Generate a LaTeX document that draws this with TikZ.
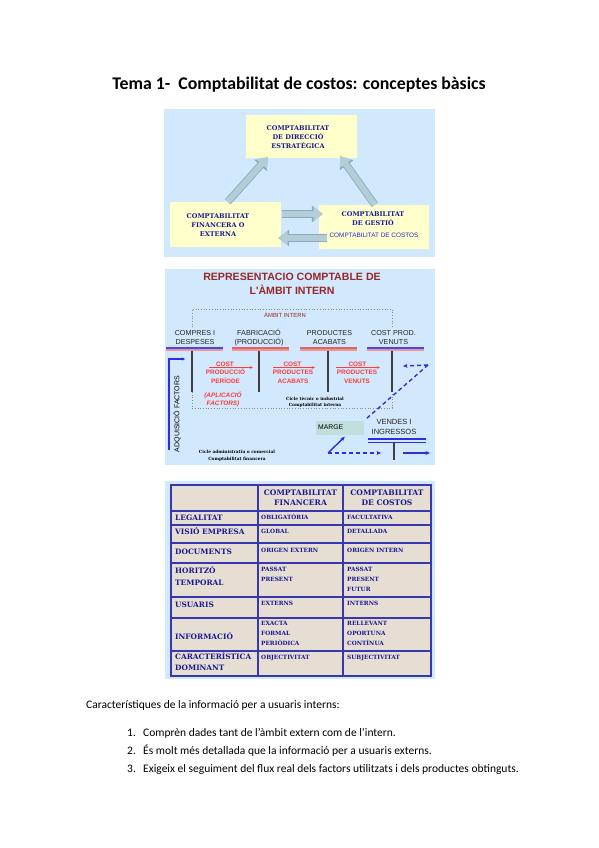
\documentclass[tikz,border=0pt]{standalone}
\usepackage{fontspec}
\setmainfont{DejaVu Serif}
\newfontfamily\carl{Carlito}
\newfontfamily\lsans{Liberation Sans}
\usetikzlibrary{arrows.meta,calc}
\definecolor{panelbg}{RGB}{210,232,252}
\definecolor{pyellow}{RGB}{255,255,204}
\definecolor{navy}{RGB}{25,25,150}
\definecolor{costblue}{RGB}{40,40,200}
\definecolor{arrowfill}{RGB}{180,206,216}
\definecolor{arrowedge}{RGB}{140,170,190}
\definecolor{darkred}{RGB}{150,40,40}
\definecolor{bred}{RGB}{255,60,60}
\definecolor{pinkbar}{RGB}{238,150,150}
\definecolor{redbar}{RGB}{225,100,100}
\definecolor{bluebar}{RGB}{70,70,235}
\definecolor{lblue}{RGB}{45,45,225}
\definecolor{tablefill}{RGB}{230,222,210}
\definecolor{tableedge}{RGB}{55,55,175}
\definecolor{margefill}{RGB}{192,222,220}
\definecolor{dotgray}{RGB}{140,140,140}
\newcommand{\bigarr}[2]{%
 \draw[arrowedge,line width=7.6pt,-{Triangle[width=16pt,length=11pt]}] #1 -- #2;
 \draw[arrowfill,line width=5.8pt,-{Triangle[width=13.5pt,length=9.3pt]}] #1 -- #2;}
\tikzset{
  ybox/.style={fill=pyellow, draw=none, inner sep=0pt},
  navytxt/.style={font=\bfseries\fontsize{6.5}{9}\selectfont, text=navy, align=center, inner sep=0pt},
  hdr/.style={font=\lsans\fontsize{7.2}{9}\selectfont, text=black!85, align=center, inner sep=0pt},
  redb/.style={font=\lsans\bfseries\fontsize{6.4}{9}\selectfont, text=bred, align=center, inner sep=0pt},
  redarr/.style={draw=bred, line width=0.8pt, -{Stealth[length=3pt,width=2.5pt]}},
  tinytxt/.style={font=\bfseries\fontsize{4.3}{6}\selectfont, text=black, align=center, inner sep=0pt},
  bluearr/.style={draw=lblue, line width=1.4pt, -{Stealth[length=4.5pt,width=4pt]}},
  bluedash/.style={bluearr, dash pattern=on 4pt off 3pt},
  rowlab/.style={font=\bfseries\fontsize{7.4}{9}\selectfont, text=navy, anchor=west, inner sep=0pt, text height=5.4pt, text depth=0pt},
  celltxt/.style={font=\bfseries\fontsize{5.8}{7}\selectfont, text=navy, anchor=west, inner sep=0pt, text height=4.2pt, text depth=0pt},
  colhead/.style={font=\bfseries\fontsize{7.6}{10}\selectfont, text=navy, align=center, inner sep=0pt},
  listtxt/.style={font=\carl\fontsize{11.5}{14}\selectfont, anchor=base west, inner sep=0pt},
}
\begin{document}
\begin{tikzpicture}[x=1pt,y=-1pt]
\useasboundingbox[fill=white] (0,0) rectangle (599,848);
% title
\node[font=\carl\bfseries\fontsize{17.8}{20}\selectfont, anchor=base, inner sep=0pt] (title) at (299,89.5) {Tema 1-\ \ Comptabilitat de costos: conceptes bàsics};
% ---------- panel 1
\fill[panelbg] (164,109) rectangle (435,257);
\node[ybox, minimum width=111pt, minimum height=43pt] (dir) at (301.5,136.5) {};
\node[ybox, minimum width=111pt, minimum height=45pt] (fin) at (225.5,224.5) {};
\node[ybox, minimum width=110pt, minimum height=44pt] (gest) at (374,227) {};
\node[navytxt] (dirt) at (298,137) {COMPTABILITAT\\DE DIRECCIÓ\\ESTRATÉGICA};
\node[navytxt] (fint) at (218,225) {COMPTABILITAT\\FINANCERA O\\EXTERNA};
\node[navytxt] (gestt) at (373,218.5) {COMPTABILITAT\\DE GESTIÓ};
\node[font=\lsans\fontsize{6.4}{8}\selectfont, text=costblue, inner sep=0pt] (costt) at (374,235) {COMPTABILITAT DE COSTOS};
\bigarr{($(fin.north west)+(58,0)$)}{($(dir.south west)+(22,-1)$)}
\bigarr{($(gest.north west)+(56,0)$)}{($(dir.south east)+(-17,-2)$)}
\bigarr{($(fin.east)+(1,-10.5)$)}{($(gest.west)+(4,-13)$)}
\bigarr{($(gest.west)+(8,11)$)}{($(fin.east)+(-3,13.5)$)}
% ---------- panel 2
\fill[panelbg] (165,269) rectangle (435,465);
\node[font=\lsans\bfseries\fontsize{10.6}{14}\selectfont, text=darkred, align=center, inner sep=0pt] (rtitle) at (292,284) {REPRESENTACIO COMPTABLE DE\\L'ÀMBIT INTERN};
\draw[dotgray, dotted, line width=0.7pt] (192,327) -- (192,309) -- (392,309) -- (392,327);
\draw[dotgray, dotted, line width=0.7pt] (192,392) -- (192,408) -- (392,408) -- (392,392);
\node[font=\lsans\fontsize{5.9}{7}\selectfont, text=darkred, inner sep=0pt] (ambit) at (285,314.5) {ÀMBIT INTERN};
\node[hdr] (h1) at (195,337.5) {COMPRES I\\DESPESES};
\node[hdr] (h2) at (259,337.5) {FABRICACIÓ\\(PRODUCCIÓ)};
\node[hdr] (h3) at (329.5,337.5) {PRODUCTES\\ACABATS};
\node[hdr] (h4) at (393.5,337.5) {COST PROD.\\VENUTS};
\foreach \xa/\xb/\ct in {166/223/bluebar, 367/424/bluebar, 232/289/redbar, 300/357/redbar}{
  \draw[\ct, line width=2pt] (\xa,347.8) -- (\xb,347.8);
  \draw[pinkbar, line width=2pt] (\xa,349.8) -- (\xb,349.8);
}
\foreach \xx in {192,259,328,392} \draw[black!75, line width=1.3pt] (\xx,351) -- (\xx,392);
\node[redb] (c1) at (225,364) {COST};
\node[redb] (p1) at (225.5,376.5) {PRODUCCIÓ\\PERÍODE};
\node[redb] (c2) at (292.5,364) {COST};
\node[redb] (p2) at (293,376.5) {PRODUCTES\\ACABATS};
\node[redb] (c3) at (357.5,364) {COST};
\node[redb] (p3) at (357,376.5) {PRODUCTES\\VENUTS};
\draw[redarr] ($(c1.center)+(-16,3.5)$) -- ++(44,0);
\draw[redarr] ($(c2.center)+(-19.5,3.5)$) -- ++(42,0);
\draw[redarr] ($(c3.center)+(-21.5,3.5)$) -- ++(44,0);
\node[redb, font=\lsans\bfseries\itshape\fontsize{6.4}{8}\selectfont] (apl) at (223,399.5) {(APLICACIÓ\\FACTORS)};
\node[tinytxt] (cti) at (315,402) {Cicle tècnic o industrial\\Comptabilitat interna};
\node[font=\lsans\fontsize{7}{8}\selectfont, rotate=90, inner sep=0pt] (adq) at (177,414) {ADQUISICIÓ FACTORS};
\draw[lblue, line width=1.5pt, -{Stealth[length=3pt,width=3pt]}] (169,450) -- (169,359) -- (185,359);
\node[fill=margefill, minimum width=48pt, minimum height=14pt, inner sep=0pt] (marge) at (340,428) {};
\node[font=\lsans\fontsize{6.8}{8}\selectfont, anchor=west, inner sep=0pt] (margt) at (318,427.5) {MARGE};
\coordinate (rtop) at (428,365);
\draw[bluedash] (rtop) -- (403,366);
\draw[lblue, line width=1.4pt, dash pattern=on 4pt off 3pt] (rtop) -- ($(marge.north east)+(2,-2)$);
\coordinate (mstart) at (328,453);
\draw[bluearr] (mstart) -- ($(marge.south west)+(29,1.5)$);
\node[hdr, font=\lsans\fontsize{7.5}{10}\selectfont] (vend) at (394,427) {VENDES I\\INGRESSOS};
\draw[lblue, line width=1.1pt] (368,439) -- (426,439);
\draw[lblue, line width=1.1pt] (368,442.5) -- (426,442.5);
\draw[black!75, line width=1.3pt] (394,443) -- (394,460);
\draw[bluedash] (mstart) -- (381,453);
\coordinate (vs) at (403,453);
\draw[bluearr] (vs) -- (430,453);
\node[tinytxt, font=\bfseries\fontsize{4.3}{7}\selectfont] (cad) at (237,455.5) {Cicle administratiu o comercial\\Comptabilitat financera};
% ---------- panel 3
\fill[panelbg] (165,481) rectangle (435,679);
\fill[tablefill] (171,485) rectangle (431,676);
\foreach \yy in {511,525,543,563,597,618,651} \draw[tableedge, line width=1.2pt] (171,\yy) -- (431,\yy);
\foreach \xx in {258,343} \draw[tableedge, line width=1.2pt] (\xx,485) -- (\xx,676);
\draw[tableedge, line width=1.5pt] (171,485) rectangle (431,676);
\node[colhead] (hf) at (300.5,498) {COMPTABILITAT\\FINANCERA};
\node[colhead] (hc) at (387,498) {COMPTABILITAT\\DE COSTOS};
\node[rowlab] (r1) at (175,518) {LEGALITAT};
\node[rowlab] (r2) at (175,532) {VISIÓ EMPRESA};
\node[rowlab] (r3) at (175,552) {DOCUMENTS};
\node[rowlab] (r4a) at (175,571) {HORITZÓ};
\node[rowlab] (r4b) at (175,583) {TEMPORAL};
\node[rowlab] (r5) at (175,605) {USUARIS};
\node[rowlab] (r6) at (175,637) {INFORMACIÓ};
\node[rowlab] (r7a) at (175,657) {CARACTERÍSTICA};
\node[rowlab] (r7b) at (175,668) {DOMINANT};
\node[celltxt] (a1) at (261,517) {OBLIGATÒRIA};
\node[celltxt] (b1) at (347,517) {FACULTATIVA};
\node[celltxt] (a2) at (261,531) {GLOBAL};
\node[celltxt] (b2) at (347,531) {DETALLADA};
\node[celltxt] (a3) at (261,550) {ORIGEN EXTERN};
\node[celltxt] (b3) at (347,550) {ORIGEN INTERN};
\node[celltxt] (a4a) at (261,569) {PASSAT};
\node[celltxt] (a4b) at (261,579) {PRESENT};
\node[celltxt] (b4a) at (347,569) {PASSAT};
\node[celltxt] (b4b) at (347,579) {PRESENT};
\node[celltxt] (b4c) at (347,589) {FUTUR};
\node[celltxt] (a5) at (261,603) {EXTERNS};
\node[celltxt] (b5) at (347,603) {INTERNS};
\node[celltxt] (a6a) at (261,623) {EXACTA};
\node[celltxt] (a6b) at (261,633) {FORMAL};
\node[celltxt] (a6c) at (261,643) {PERIÒDICA};
\node[celltxt] (b6a) at (347,623) {RELLEVANT};
\node[celltxt] (b6b) at (347,633) {OPORTUNA};
\node[celltxt] (b6c) at (347,643) {CONTÍNUA};
\node[celltxt] (a7) at (261,657) {OBJECTIVITAT};
\node[celltxt] (b7) at (347,657) {SUBJECTIVITAT};
% ---------- bottom text
\node[listtxt] (intro) at (86,708.5) {Característiques de la informació per a usuaris interns:};
\node[listtxt] (n1) at (127,736) {1.};
\node[listtxt] (i1) at (143,736) {Comprèn dades tant de l’àmbit extern com de l’intern.};
\node[listtxt] (n2) at (127,754) {2.};
\node[listtxt] (i2) at (143,754) {És molt més detallada que la informació per a usuaris externs.};
\node[listtxt] (n3) at (127,772) {3.};
\node[listtxt] (i3) at (143,772) {Exigeix el seguiment del flux real dels factors utilitzats i dels productes obtinguts.};
\end{tikzpicture}
\end{document}
